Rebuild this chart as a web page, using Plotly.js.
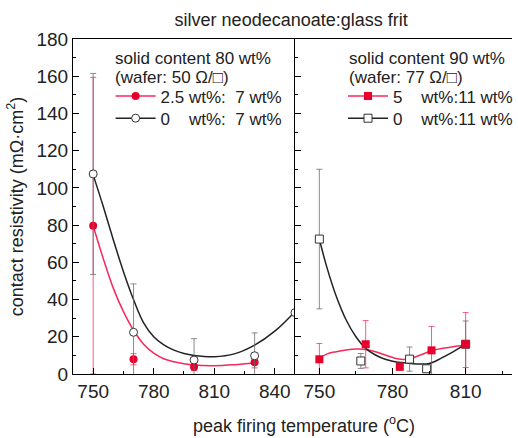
<!DOCTYPE html>
<html>
<head>
<meta charset="utf-8">
<script src="https://cdn.plot.ly/plotly-3.0.1.min.js"></script>
<style>html,body{margin:0;padding:0;background:#fff;}#chart{width:518px;height:438px;}</style>
</head>
<body>
<div id="chart"></div>
<script>
// ---------- Left panel: solid content 80 wt% ----------
const leftT = [750, 770, 800, 830];
const leftRed = [79.7, 7.9, 3.8, 6.3];
const leftRedErr = [79.7, 3, 2, 3];
const leftBlackT = [750, 770, 800, 830, 850];
const leftBlack = [107.5, 22.4, 7.5, 9.8, 33];
const leftBlackErr = [54, 26, 11.5, 12.3, 0];
const leftRedFitT = [750, 755, 760, 765, 770, 775, 780, 785, 790, 795, 800, 810, 820, 830];
const leftRedFit = [79.7, 62, 46, 33.5, 23.5, 16, 11.2, 8.2, 6.6, 5.5, 4.8, 4.5, 5, 5.9];
const leftBlackFitT = [750, 755, 760, 765, 770, 775, 780, 785, 790, 795, 800, 810, 820, 830, 840, 850];
const leftBlackFit = [107, 90, 72, 55, 40, 27.5, 20, 15.6, 12.8, 11, 10, 9.3, 10.8, 15.5, 23, 33.5];

// ---------- Right panel: solid content 90 wt% ----------
const rightRedT = [750, 769, 783, 796, 810];
const rightRed = [7.9, 16, 3.9, 12.7, 16];
const rightRedErr = [8.5, 12.7, 2, 12.9, 17];
const rightBlackT = [750, 767, 787, 794, 810];
const rightBlack = [72.5, 7, 8, 2.8, 16];
const rightBlackErr = [37.5, 4, 6.5, 2, 12.5];
const rightRedFitT = [750, 753, 757, 761, 765, 769, 773, 777, 781, 785, 788, 792, 796, 803, 810];
const rightRedFit = [8.4, 10.7, 12, 12.9, 13.4, 13.2, 12, 10.2, 8.5, 7.8, 8.5, 10.5, 12.5, 14.3, 15.6];
const rightBlackFitT = [750, 753, 757, 761, 765, 769, 773, 777, 781, 785, 790, 795, 800, 805, 810];
const rightBlackFit = [72.4, 57.7, 41.5, 29, 20, 13.8, 10.2, 7.9, 6.6, 6, 5.4, 5.6, 8.5, 12, 16];

// ---------- Text ----------
const chartTitle = 'silver neodecanoate:glass frit';
const yTitle = 'contact resistivity (mΩ·cm<sup>2</sup>)';
const xTitle = 'peak firing temperature (<sup>o</sup>C)';
const leftLabels = ['solid content 80 wt%', '(wafer: 50 Ω/\u25A1)'];
const rightLabels = ['solid content 90 wt%', '(wafer: 77 Ω/\u25A1)'];
const leftLegend = ['2.5 wt%:\u00a0\u00a07 wt%', '0\u00a0\u00a0\u00a0\u00a0wt%:\u00a0\u00a07 wt%'];
const rightLegend = ['5\u00a0\u00a0\u00a0\u00a0wt%:11 wt%', '0\u00a0\u00a0\u00a0\u00a0wt%:11 wt%'];
const xTicks = [750, 780, 810, 840];
const yTicks = [0, 20, 40, 60, 80, 100, 120, 140, 160, 180];

const RED_LINE = '#f7285a';
const RED_MK = '#e8002d';
const RED_ERR = 'rgba(240,40,90,0.75)';
const BLK = '#222';
const BLK_ERR = 'rgba(110,110,110,0.8)';
const FONT = 'Arial, "Liberation Sans", sans-serif';

function errY(arr, col) { return {type: 'data', array: arr, visible: true, color: col, thickness: 1, width: 3}; }

const traces = [
  {x: leftRedFitT, y: leftRedFit, xaxis: 'x', yaxis: 'y', mode: 'lines', line: {color: RED_LINE, width: 1.5, shape: 'spline'}, showlegend: false, hoverinfo: 'skip'},
  {x: leftBlackFitT, y: leftBlackFit, xaxis: 'x', yaxis: 'y', mode: 'lines', line: {color: BLK, width: 1.5, shape: 'spline'}, showlegend: false, hoverinfo: 'skip'},
  {x: leftT, y: leftRed, xaxis: 'x', yaxis: 'y', mode: 'markers', marker: {symbol: 'circle', size: 8, color: RED_MK}, error_y: errY(leftRedErr, RED_ERR), showlegend: false},
  {x: leftBlackT, y: leftBlack, xaxis: 'x', yaxis: 'y', mode: 'markers', marker: {symbol: 'circle', size: 8, color: '#fff', line: {color: '#333', width: 1}}, error_y: errY(leftBlackErr, BLK_ERR), showlegend: false},
  {x: rightRedFitT, y: rightRedFit, xaxis: 'x2', yaxis: 'y2', mode: 'lines', line: {color: RED_LINE, width: 1.5, shape: 'spline'}, showlegend: false, hoverinfo: 'skip'},
  {x: rightBlackFitT, y: rightBlackFit, xaxis: 'x2', yaxis: 'y2', mode: 'lines', line: {color: BLK, width: 1.5, shape: 'spline'}, showlegend: false, hoverinfo: 'skip'},
  {x: rightBlackT, y: rightBlack, xaxis: 'x2', yaxis: 'y2', mode: 'markers', marker: {symbol: 'square', size: 8, color: '#fff', line: {color: '#333', width: 1}}, error_y: errY(rightBlackErr, BLK_ERR), showlegend: false},
  {x: rightRedT, y: rightRed, xaxis: 'x2', yaxis: 'y2', mode: 'markers', marker: {symbol: 'square', size: 8, color: RED_MK}, error_y: errY(rightRedErr, RED_ERR), showlegend: false},
  // legend entries (one legend box per row for exact row spacing)
  {x: [null], y: [null], xaxis: 'x', yaxis: 'y', name: leftLegend[0], legend: 'legend', mode: 'lines+markers', line: {color: RED_LINE, width: 1.5}, marker: {symbol: 'circle', size: 8, color: RED_MK}},
  {x: [null], y: [null], xaxis: 'x', yaxis: 'y', name: leftLegend[1], legend: 'legend2', mode: 'lines+markers', line: {color: BLK, width: 1.5}, marker: {symbol: 'circle', size: 8, color: '#fff', line: {color: '#333', width: 1}}},
  {x: [null], y: [null], xaxis: 'x2', yaxis: 'y2', name: rightLegend[0], legend: 'legend3', mode: 'lines+markers', line: {color: RED_LINE, width: 1.5}, marker: {symbol: 'square', size: 8, color: RED_MK}},
  {x: [null], y: [null], xaxis: 'x2', yaxis: 'y2', name: rightLegend[1], legend: 'legend4', mode: 'lines+markers', line: {color: BLK, width: 1.5}, marker: {symbol: 'square', size: 8, color: '#fff', line: {color: '#333', width: 1}}}
];

const split = 225 / 445;
const axCommon = {
  showline: true, linecolor: '#000', linewidth: 1, mirror: true,
  ticks: 'inside', ticklen: 6, tickcolor: '#000', showgrid: false, zeroline: false,
  tickfont: {family: FONT, size: 19, color: '#222'}
};
function leg(x, y) {
  return {x: x, xanchor: 'left', y: y, yanchor: 'top', bgcolor: 'rgba(0,0,0,0)', font: {family: FONT, size: 17, color: '#222'}, itemwidth: 40};
}

const layout = {
  width: 518, height: 438,
  margin: {l: 73, r: 0, t: 39, b: 64},
  paper_bgcolor: '#fff', plot_bgcolor: '#fff',
  font: {family: FONT, color: '#222'},
  title: {text: chartTitle, font: {family: FONT, size: 18, color: '#222'}, xref: 'paper', x: 0.497, xanchor: 'center', yref: 'container', y: 0.955, yanchor: 'middle'},
  xaxis: Object.assign({}, axCommon, {domain: [0, split], range: [740, 850], tickmode: 'array', tickvals: xTicks, anchor: 'y',
    minor: {ticks: 'inside', ticklen: 3, dtick: 15, tick0: 750, tickcolor: '#000'}}),
  xaxis2: Object.assign({}, axCommon, {domain: [split, 1], range: [740, 829], tickmode: 'array', tickvals: xTicks, anchor: 'y2',
    minor: {ticks: 'inside', ticklen: 3, dtick: 15, tick0: 750, tickcolor: '#000'}}),
  yaxis: Object.assign({}, axCommon, {mirror: false, range: [0, 180], tickmode: 'array', tickvals: yTicks, anchor: 'x',
    minor: {ticks: 'inside', ticklen: 3, dtick: 10, tickcolor: '#000'},
    title: {text: yTitle, font: {family: FONT, size: 18, color: '#222'}, standoff: 8}}),
  yaxis2: Object.assign({}, axCommon, {mirror: false, range: [0, 180], tickmode: 'array', tickvals: yTicks, anchor: 'x2', showticklabels: false,
    minor: {ticks: 'inside', ticklen: 3, dtick: 10, tickcolor: '#000'}}),
  legend: leg(0.0857, 0.882),
  legend2: leg(0.0857, 0.816),
  legend3: leg(0.6157, 0.882),
  legend4: leg(0.6157, 0.816),
  annotations: [
    {text: leftLabels[0], xref: 'paper', yref: 'paper', x: 0.092, y: 0.943, xanchor: 'left', yanchor: 'middle', showarrow: false, font: {family: FONT, size: 17, color: '#222'}},
    {text: leftLabels[1], xref: 'paper', yref: 'paper', x: 0.092, y: 0.884, xanchor: 'left', yanchor: 'middle', showarrow: false, font: {family: FONT, size: 17, color: '#222'}},
    {text: rightLabels[0], xref: 'paper', yref: 'paper', x: 0.624, y: 0.943, xanchor: 'left', yanchor: 'middle', showarrow: false, font: {family: FONT, size: 17, color: '#222'}},
    {text: rightLabels[1], xref: 'paper', yref: 'paper', x: 0.624, y: 0.884, xanchor: 'left', yanchor: 'middle', showarrow: false, font: {family: FONT, size: 17, color: '#222'}},
    {text: xTitle, xref: 'paper', yref: 'paper', x: 0.526, y: -0.152, xanchor: 'center', yanchor: 'middle', showarrow: false, font: {family: FONT, size: 18, color: '#222'}}
  ]
};

Plotly.newPlot('chart', traces, layout, {displayModeBar: false, staticPlot: true});
</script>
</body>
</html>
